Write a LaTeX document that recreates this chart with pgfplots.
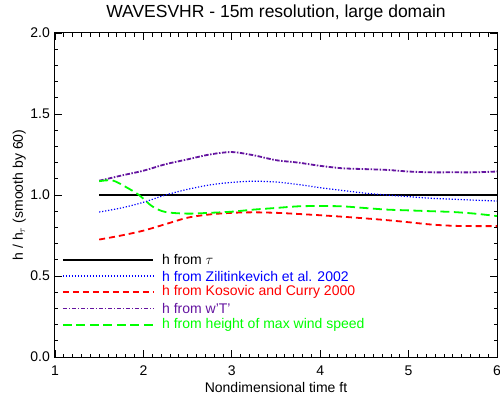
\documentclass[border=0pt]{standalone}
\usepackage{pgfplots}
\pgfplotsset{compat=1.18}
\usepackage{fontspec}
\setmainfont{Liberation Sans}
\definecolor{cblue}{RGB}{0,0,255}
\definecolor{cred}{RGB}{255,0,0}
\definecolor{cpurple}{RGB}{100,20,160}
\definecolor{cgreen}{RGB}{0,255,0}
\begin{document}
\begin{tikzpicture}
\begin{axis}[
  at={(0pt,0pt)}, anchor=south west,
  scale only axis, width=442pt, height=324pt,
  xmin=1, xmax=6, ymin=0, ymax=2,
  xtick={1,2,3,4,5,6}, ytick={0,0.5,1,1.5,2},
  minor x tick num=9, minor y tick num=4,
  tick align=inside, major tick length=7pt, minor tick length=3.5pt,
  tick style={black, line width=0.8pt},
  axis line style={black, line width=1pt},
  /pgf/number format/assume math mode=true,
  ticklabel style={font=\fontsize{14}{16}\selectfont, inner sep=0pt},
  xticklabel style={anchor=north, yshift=-9pt},
  yticklabel style={anchor=east, xshift=-5pt, /pgf/number format/.cd, fixed, fixed zerofill, precision=1},
  title={WAVESVHR - 15m resolution, large domain},
  title style={font=\fontsize{17.5}{20}\selectfont, inner sep=0pt, at={(axis description cs:0.5,1.0185)}, anchor=south},
  xlabel={Nondimensional time ft},
  xlabel style={font=\fontsize{14}{16}\selectfont, inner sep=0pt, at={(axis description cs:0.5,-0.0772)}, anchor=north},
  ylabel={h / h$_\tau$ (smooth by 60)},
  ylabel style={font=\fontsize{14}{16}\selectfont, inner sep=0pt, at={(axis description cs:-0.0656,0.5)}, anchor=south, rotate=0},
]
% h from tau
\addplot[black, line width=1.8pt] coordinates {(1.5,1.0) (6.0,1.0)};
% Zilitinkevich
\addplot[cblue, line width=1.2pt, dash pattern=on 1.2pt off 1.8pt, smooth] coordinates {
(1.5,0.895) (1.75,0.92) (2.0,0.955) (2.25,1.0) (2.5,1.035) (2.75,1.062) (3.0,1.078) (3.25,1.085) (3.5,1.08) (3.75,1.065) (4.0,1.045) (4.25,1.028) (4.5,1.012) (4.75,1.0) (5.0,0.99) (5.25,0.98) (5.5,0.974) (5.75,0.968) (6.0,0.963)};
% Kosovic
\addplot[cred, line width=1.8pt, dash pattern=on 6pt off 4pt, smooth] coordinates {
(1.5,0.725) (1.75,0.75) (2.0,0.78) (2.25,0.82) (2.5,0.86) (2.75,0.88) (3.0,0.89) (3.25,0.893) (3.5,0.89) (3.75,0.883) (4.0,0.875) (4.25,0.866) (4.5,0.856) (4.75,0.845) (5.0,0.832) (5.25,0.818) (5.5,0.81) (5.75,0.808) (6.0,0.808)};
% w'T'
\addplot[cpurple, line width=1.8pt, dash pattern=on 4.5pt off 1.5pt on 1.5pt off 1.5pt, smooth] coordinates {
(1.5,1.088) (1.75,1.12) (2.0,1.15) (2.25,1.19) (2.5,1.22) (2.75,1.25) (3.0,1.265) (3.25,1.245) (3.5,1.215) (3.75,1.2) (4.0,1.18) (4.25,1.165) (4.5,1.16) (4.75,1.155) (5.0,1.145) (5.25,1.14) (5.5,1.14) (5.75,1.14) (6.0,1.145)};
% max wind
\addplot[cgreen, line width=1.8pt, dash pattern=on 9pt off 4.5pt, smooth] coordinates {
(1.5,1.085) (1.65,1.09) (1.8,1.05) (1.95,1.0) (2.1,0.93) (2.25,0.895) (2.5,0.885) (2.75,0.89) (3.0,0.897) (3.25,0.91) (3.5,0.92) (3.75,0.93) (4.0,0.932) (4.25,0.93) (4.5,0.92) (4.75,0.91) (5.0,0.905) (5.25,0.9) (5.5,0.895) (5.75,0.885) (6.0,0.87)};
% legend
\addplot[black, line width=1.8pt] coordinates {(1.09,0.6) (2.11,0.6)};
\addplot[cblue, line width=1.2pt, dash pattern=on 1.2pt off 1.8pt] coordinates {(1.09,0.5) (2.11,0.5)};
\addplot[cred, line width=1.8pt, dash pattern=on 6pt off 4pt] coordinates {(1.09,0.4) (2.11,0.4)};
\addplot[cpurple, line width=1.8pt, dash pattern=on 4.5pt off 1.5pt on 1.5pt off 1.5pt] coordinates {(1.09,0.3) (2.11,0.3)};
\addplot[cgreen, line width=1.8pt, dash pattern=on 9pt off 4.5pt] coordinates {(1.09,0.2) (2.11,0.2)};
\begin{scope}[every node/.style={anchor=west, inner sep=0pt, font=\fontsize{14}{16}\selectfont}]
\node[text=black] at (axis cs:2.21,0.6) {h from $\tau$};
\node[text=cblue] at (axis cs:2.21,0.5) {h from Zilitinkevich et al. 2002};
\node[text=cred] at (axis cs:2.21,0.4) {h from Kosovic and Curry 2000};
\node[text=cpurple] at (axis cs:2.21,0.3) {h from w'T'};
\node[text=cgreen] at (axis cs:2.21,0.2) {h from height of max wind speed};
\end{scope}
\end{axis}
\pgfresetboundingbox
\path (-55pt,-37pt) rectangle (445pt,357pt);
\end{tikzpicture}
\end{document}
